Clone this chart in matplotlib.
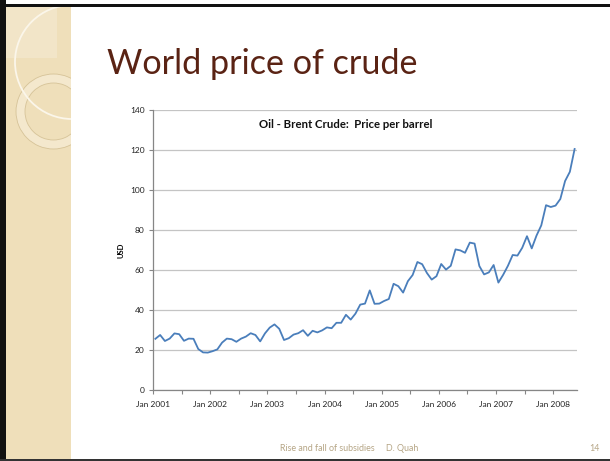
import numpy as np
import matplotlib
matplotlib.use('Agg')
import matplotlib.pyplot as plt
from matplotlib.patches import Rectangle, Circle, Wedge

# Monatliche Brent-Preise (USD je Barrel), Jan 2001 bis Mai 2008
years = ['2001', '2002', '2003', '2004', '2005', '2006', '2007', '2008']
prices = [
    25.6, 27.5, 24.5, 25.7, 28.3, 27.9, 24.6, 25.7, 25.6, 20.5, 18.8, 18.7,   # 2001
    19.4, 20.3, 23.7, 25.7, 25.4, 24.1, 25.7, 26.7, 28.4, 27.5, 24.3, 28.3,   # 2002
    31.2, 32.8, 30.6, 25.0, 25.9, 27.7, 28.4, 29.9, 27.1, 29.6, 28.8, 29.8,   # 2003
    31.3, 30.9, 33.6, 33.6, 37.6, 35.2, 38.2, 42.7, 43.2, 49.8, 43.1, 43.2,   # 2004
    44.5, 45.5, 53.1, 51.9, 48.7, 54.4, 57.5, 64.0, 62.9, 58.5, 55.2, 56.9,   # 2005
    63.0, 60.2, 62.1, 70.3, 69.8, 68.6, 73.7, 73.2, 62.0, 57.8, 58.8, 62.5,   # 2006
    53.7, 57.6, 62.1, 67.5, 67.2, 71.1, 76.9, 70.8, 77.2, 82.3, 92.4, 91.5,   # 2007
    92.2, 95.5, 104.5, 109.1, 120.5,                                          # 2008
]
y_ticks = [0, 20, 40, 60, 80, 100, 120, 140]

W, H = 610, 461
fig = plt.figure(figsize=(W / 100, H / 100), dpi=100)
fig.patch.set_facecolor('white')

# Hintergrund der Folie in Pixelkoordinaten
bg = fig.add_axes([0, 0, 1, 1])
bg.set_xlim(0, W)
bg.set_ylim(H, 0)
bg.axis('off')

panel = Rectangle((6, 6), 65, 453, facecolor='#EFDFBA', edgecolor='none')
bg.add_patch(panel)
bg.add_patch(Rectangle((6, 6), 51, 52, facecolor='#F2E5C8', edgecolor='none'))

ring = Wedge((53.5, 111.5), 37.5, 0, 360, width=9, facecolor='#F4E8CD',
             edgecolor='#D6C398', linewidth=0.6)
bg.add_patch(ring)
ring.set_clip_path(panel)
arc = Circle((72, 62), 57, facecolor='none', edgecolor='#FBF6EA', linewidth=1.3)
bg.add_patch(arc)
arc.set_clip_path(panel)

# Rahmen
bg.add_patch(Rectangle((0, 0), 6, H, facecolor='#111111', edgecolor='none'))
bg.add_patch(Rectangle((0, 4), W, 3, facecolor='#111111', edgecolor='none'))
bg.add_patch(Rectangle((0, 458.5), W, 2.5, facecolor='#333333', edgecolor='none'))

# Titel und Fusszeile
bg.text(107, 74, 'World price of crude', fontsize=24.6, color='#5A2314',
        family='Lato', ha='left', va='baseline')
bg.text(280, 448, 'Rise and fall of subsidies', fontsize=6.4, color='#B5A585',
        family='Lato', ha='left', va='center')
bg.text(386, 448, 'D. Quah', fontsize=6.4, color='#B5A585',
        family='Lato', ha='left', va='center')
bg.text(600, 448, '14', fontsize=6.4, color='#B5A585',
        family='Lato', ha='right', va='center')

# Diagramm
left, right, top, bottom = 153, 577, 110, 390
ax = fig.add_axes([left / W, (H - bottom) / H, (right - left) / W, (bottom - top) / H])
ax.set_facecolor('none')

x = np.arange(len(prices)) + 0.5
ax.plot(x, prices, color='#4A7EBB', linewidth=1.3, zorder=3)

ax.set_xlim(0, 89)
ax.set_ylim(0, 140)
ax.set_yticks(y_ticks)
ax.set_yticklabels([str(v) for v in y_ticks], fontsize=6, family='Lato', color='#222222')
ax.set_xticks(np.arange(len(years)) * 12)
ax.set_xticklabels(['Jan ' + y for y in years], fontsize=6, family='Lato', color='#222222')
ax.set_xticks(np.arange(0, 90, 6), minor=True)
ax.tick_params(axis='both', which='both', color='#868686', length=3, width=0.8, pad=3)
ax.tick_params(axis='x', which='major', pad=5)

ax.grid(axis='y', color='#C4C4C4', linewidth=0.9)
for s in ['top', 'right']:
    ax.spines[s].set_visible(False)
for s in ['left', 'bottom']:
    ax.spines[s].set_color('#868686')
    ax.spines[s].set_linewidth(0.9)

ax.set_ylabel('USD', fontsize=5.5, family='Lato', fontweight='bold', labelpad=4)
fig.text(346 / W, (H - 125) / H, 'Oil - Brent Crude:  Price per barrel', fontsize=8.2,
         family='Lato', fontweight='bold', ha='center', va='center', color='#111111')

fig.savefig('out.png', dpi=100)
